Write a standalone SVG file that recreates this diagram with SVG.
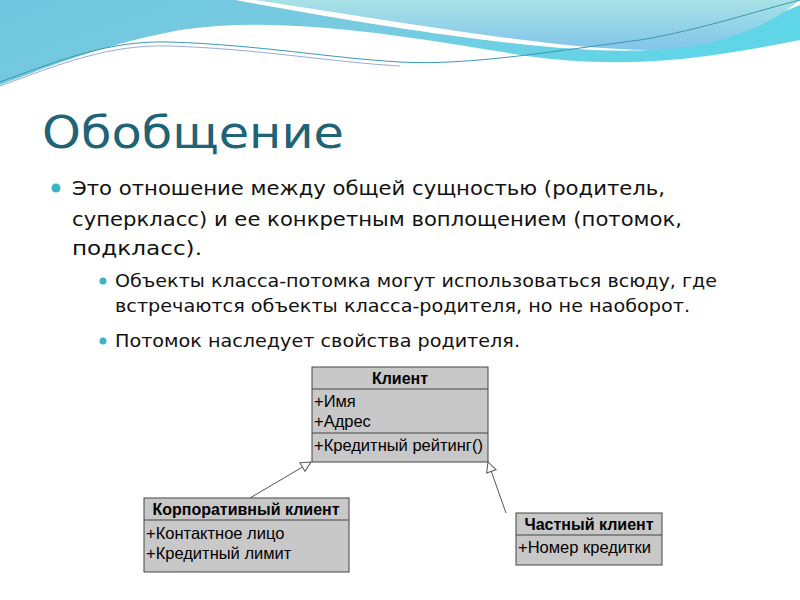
<svg xmlns="http://www.w3.org/2000/svg" width="800" height="600" viewBox="0 0 800 600">
<defs>
<linearGradient id="g1" x1="0" y1="0" x2="1" y2="0.3"><stop offset="0" stop-color="#6ec6de"/><stop offset="0.5" stop-color="#78cbe0"/><stop offset="1" stop-color="#5fd6e8"/></linearGradient>
<linearGradient id="g2" x1="0" y1="0" x2="0" y2="1"><stop offset="0" stop-color="#a8e2e6"/><stop offset="1" stop-color="#82c4ea"/></linearGradient>
<marker id="tri" viewBox="0 0 12 12" refX="11" refY="6" markerWidth="12" markerHeight="12" markerUnits="userSpaceOnUse" orient="auto"><path d="M1,1 L11,6 L1,11 Z" fill="#fff" stroke="#555" stroke-width="1"/></marker>
<style>
.b{font-family:"DejaVu Sans",Verdana,sans-serif;fill:#111;font-size:20px}
.s{font-family:"DejaVu Sans",Verdana,sans-serif;fill:#111;font-size:18px}
.box{fill:#c8c8c8;stroke:#444;stroke-width:1}
.hd{font-family:"Liberation Sans",Arial,sans-serif;font-size:16px;font-weight:bold;text-anchor:middle}
.at{font-family:"Liberation Sans",Arial,sans-serif;font-size:16.5px}
</style>
</defs>
<rect width="800" height="600" fill="#fff"/>
<path d="M0,0 H800 V40 C700,60 620,70 520,55 C400,35 280,15 180,30 C100,45 40,70 0,85 Z" fill="url(#g1)"/>
<path d="M235,0 H800 V5 C760,20 720,45 650,50 C560,55 400,30 235,0 Z" fill="#fff"/>
<path d="M255,0 H800 C770,25 720,48 650,50 C560,50 420,25 255,0 Z" fill="url(#g2)"/>
<path d="M0,82 C60,60 110,40 170,42 C260,45 330,58 400,62 C470,66 560,50 640,40 C700,30 760,10 800,0" fill="none" stroke="#3a9ab0" stroke-width="1"/>
<path d="M0,86 C60,64 110,44 170,46 C260,49 330,62 400,66" fill="none" stroke="#9ad" stroke-width="1"/>
<text x="42" y="148" font-family="DejaVu Sans,Verdana,sans-serif" font-size="45" fill="#1f6377" textLength="302" lengthAdjust="spacingAndGlyphs">Обобщение</text>
<circle cx="56" cy="188" r="4.5" fill="#3ab5c8"/>
<text class="b" x="72" y="195" textLength="593" lengthAdjust="spacingAndGlyphs">Это отношение между общей сущностью (родитель,</text>
<text class="b" x="72" y="226" textLength="610" lengthAdjust="spacingAndGlyphs">суперкласс) и ее конкретным воплощением (потомок,</text>
<text class="b" x="72" y="255" textLength="130" lengthAdjust="spacingAndGlyphs">подкласс).</text>
<circle cx="103" cy="281" r="3.5" fill="#3ab5c8"/>
<text class="s" x="115" y="287" textLength="602" lengthAdjust="spacingAndGlyphs">Объекты класса-потомка могут использоваться всюду, где</text>
<text class="s" x="115" y="312" textLength="575" lengthAdjust="spacingAndGlyphs">встречаются объекты класса-родителя, но не наоборот.</text>
<circle cx="103" cy="341" r="3.5" fill="#3ab5c8"/>
<text class="s" x="115" y="347" textLength="405" lengthAdjust="spacingAndGlyphs">Потомок наследует свойства родителя.</text>
<rect x="136" y="357" width="529" height="220" fill="#fff"/>
<g id="connectors" stroke="#555" stroke-width="1" fill="none">
<line x1="250" y1="498" x2="311" y2="462" marker-end="url(#tri)"/>
<line x1="506" y1="513" x2="488" y2="462" marker-end="url(#tri)"/>
</g>
<g id="client">
<rect class="box" x="312" y="367" width="176" height="95"/>
<line x1="312" y1="389" x2="488" y2="389" stroke="#444"/>
<line x1="312" y1="433" x2="488" y2="433" stroke="#444"/>
<text class="hd" x="400" y="384">Клиент</text>
<text class="at" x="314" y="407">+Имя</text>
<text class="at" x="314" y="427">+Адрес</text>
<text class="at" x="314" y="451">+Кредитный рейтинг()</text>
</g>
<g id="corporate">
<rect class="box" x="144" y="498" width="205" height="74"/>
<line x1="144" y1="520" x2="349" y2="520" stroke="#444"/>
<text class="hd" x="246" y="515">Корпоративный клиент</text>
<text class="at" x="146" y="539">+Контактное лицо</text>
<text class="at" x="146" y="559">+Кредитный лимит</text>
</g>
<g id="private">
<rect class="box" x="516" y="513" width="146" height="52"/>
<line x1="516" y1="535" x2="662" y2="535" stroke="#444"/>
<text class="hd" x="589" y="530">Частный клиент</text>
<text class="at" x="518" y="553">+Номер кредитки</text>
</g>
</svg>
